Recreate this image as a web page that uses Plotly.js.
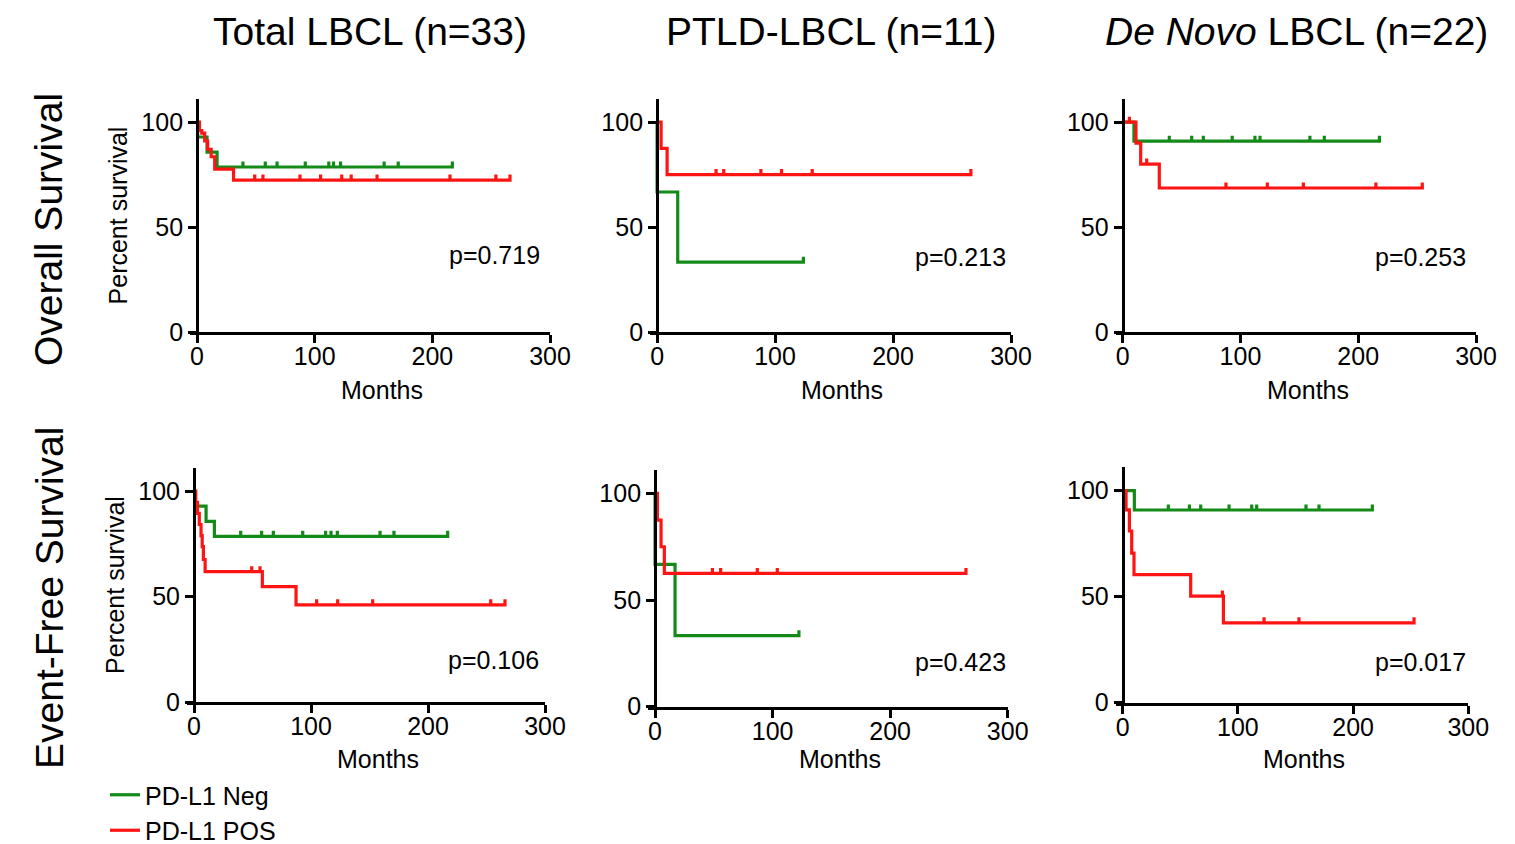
<!DOCTYPE html>
<html>
<head>
<meta charset="utf-8">
<script src="https://cdn.plot.ly/plotly-3.0.1.min.js"></script>
<style>html,body{margin:0;padding:0;background:#fff;}#chart{width:1515px;height:844px;}</style>
</head>
<body>
<div id="chart"></div>
<script>
// ---------- data (months, percent survival) ----------
const columnTitles = ["Total LBCL (n=33)", "PTLD-LBCL (n=11)", "<i>De Novo</i> LBCL (n=22)"];
const rowTitles = ["Overall Survival", "Event-Free Survival"];
const groupNames = ["PD-L1 Neg", "PD-L1 POS"];
const xTicks = [0, 100, 200, 300];
const yTicks = [0, 50, 100];
const pValues = ["p=0.719", "p=0.213", "p=0.253", "p=0.106", "p=0.423", "p=0.017"];

// Overall survival - Total
const osTotalNegEventT = [0.5, 8.5, 17];
const osTotalNegEventS = [92.9, 85.7, 78.6];
const osTotalNegCensor = [39, 58, 68, 92, 112, 116, 122, 159, 171, 217];
const osTotalPosEventT = [2, 4, 6.5, 9, 12, 15, 31];
const osTotalPosEventS = [96, 94.7, 91, 87, 83.5, 77.6, 72.4];
const osTotalPosCensor = [49, 56, 87.5, 105, 123, 131, 153, 215, 254, 266];

// Overall survival - PTLD
const osPtldNegEventT = [0, 17.5];
const osPtldNegEventS = [66.7, 33.3];
const osPtldNegCensor = [124];
const osPtldPosEventT = [3.4, 8.5];
const osPtldPosEventS = [87.5, 75];
const osPtldPosCensor = [50, 56.5, 88, 105.5, 131.5, 266];

// Overall survival - De Novo
const osDnNegEventT = [9.6];
const osDnNegEventS = [90.9];
const osDnNegCensor = [39.6, 58.6, 68.5, 93, 112.3, 116.6, 159, 171.2, 218];
const osDnPosEventT = [11.3, 15.3, 31.1];
const osDnPosEventS = [90, 80, 68.6];
const osDnPosCensor = [5.7, 20.4, 87.7, 122.8, 153.4, 215, 254.4];

// Event-free survival - Total
const efsTotalNegEventT = [0.5, 10.3, 17.4];
const efsTotalNegEventS = [92.9, 85.7, 78.6];
const efsTotalNegCensor = [39.9, 57.8, 67.8, 92.9, 112.5, 117.1, 122.5, 159, 170.9, 216.8];
const efsTotalPosEventT = [1.5, 3, 4.5, 6, 7, 8, 9.5, 58.4, 87.2];
const efsTotalPosEventS = [94.7, 89.5, 84.2, 78.9, 73.7, 67.6, 61.8, 54.7, 46.1];
const efsTotalPosCensor = [49.3, 56.4, 104.8, 122.8, 152.7, 253.6, 265.8];

// Event-free survival - PTLD
const efsPtldNegEventT = [0, 17];
const efsPtldNegEventS = [66.7, 33.3];
const efsPtldNegCensor = [122.4];
const efsPtldPosEventT = [2, 5.1, 7.9];
const efsPtldPosEventS = [87.5, 75, 62.5];
const efsPtldPosCensor = [48.8, 55.8, 87, 104, 264.5];

// Event-free survival - De Novo
const efsDnNegEventT = [10.1];
const efsDnNegEventS = [90.9];
const efsDnNegCensor = [39.6, 57.9, 67.7, 92.3, 112, 116.3, 159.1, 170.4, 216.7];
const efsDnPosEventT = [2.9, 5.8, 7.8, 9.8, 59, 87.4];
const efsDnPosEventS = [91, 81, 70.6, 60.4, 50.3, 37.7];
const efsDnPosCensor = [86.5, 122.7, 153, 252.9];

// ---------- build ----------
const panels = [
  {neg:[osTotalNegEventT, osTotalNegEventS, osTotalNegCensor], pos:[osTotalPosEventT, osTotalPosEventS, osTotalPosCensor]},
  {neg:[osPtldNegEventT, osPtldNegEventS, osPtldNegCensor], pos:[osPtldPosEventT, osPtldPosEventS, osPtldPosCensor]},
  {neg:[osDnNegEventT, osDnNegEventS, osDnNegCensor], pos:[osDnPosEventT, osDnPosEventS, osDnPosCensor]},
  {neg:[efsTotalNegEventT, efsTotalNegEventS, efsTotalNegCensor], pos:[efsTotalPosEventT, efsTotalPosEventS, efsTotalPosCensor]},
  {neg:[efsPtldNegEventT, efsPtldNegEventS, efsPtldNegCensor], pos:[efsPtldPosEventT, efsPtldPosEventS, efsPtldPosCensor]},
  {neg:[efsDnNegEventT, efsDnNegEventS, efsDnNegCensor], pos:[efsDnPosEventT, efsDnPosEventS, efsDnPosCensor]}
];

const W = 1515, H = 844;
// pixel geometry of each panel: [x at -6, x at 300, y pixel of 0, y pixel of 111]
const geom = [
  [190, 550, 332, 99],
  [650, 1011, 332, 99],
  [1115.6, 1476, 332, 99],
  [187, 545, 702, 468],
  [648, 1007.7, 706.7, 470],
  [1115.8, 1468.3, 702.7, 467.4]
];
// vertical pixel centre of the "Months" label for each panel
const monthsY = [390, 390, 390, 759, 759, 759];
const XMIN = -6, XMAX = 300, YMAX = 111;
const TICK_H = 2.6;
const GREEN = "#148a19", RED = "#ff1414";
const FONT = "Liberation Sans, Arial, sans-serif";
const FS = 25;

function kmPath(evT, evS, cens) {
  const items = [];
  evT.forEach((t, i) => items.push({t: t, type: 'e', s: evS[i]}));
  cens.forEach(t => items.push({t: t, type: 'c'}));
  items.sort((a, b) => a.t - b.t || (a.type === 'c' ? -1 : 1));
  const x = [0], y = [100];
  let cur = 100;
  items.forEach(it => {
    if (it.type === 'e') { x.push(it.t, it.t); y.push(cur, it.s); cur = it.s; }
    else { x.push(it.t, it.t, it.t); y.push(cur, cur + TICK_H, cur); }
  });
  return {x: x, y: y};
}

const traces = [];
const layout = {
  width: W, height: H,
  margin: {l: 0, r: 0, t: 0, b: 0, autoexpand: false},
  paper_bgcolor: "#fff", plot_bgcolor: "rgba(0,0,0,0)",
  font: {family: FONT, color: "#000", size: FS},
  showlegend: true,
  legend: {x: 105 / W, y: (H - 772) / H, xanchor: "left", yanchor: "top",
           font: {family: FONT, size: FS, color: "#000"}, bgcolor: "rgba(0,0,0,0)",
           tracegroupgap: 0, itemwidth: 30},
  annotations: [], shapes: []
};

panels.forEach((p, i) => {
  const k = i + 1;
  const xa = "x" + (k === 1 ? "" : k), ya = "y" + (k === 1 ? "" : k);
  const g = geom[i];
  const dx0 = g[0] / W, dx1 = g[1] / W;
  const dy0 = (H - g[2]) / H, dy1 = (H - g[3]) / H;
  const yPos = dx0 + (0 - XMIN) / (XMAX - XMIN) * (dx1 - dx0);
  [["neg", GREEN, 0], ["pos", RED, 1]].forEach(([key, col, gi]) => {
    const path = kmPath(p[key][0], p[key][1], p[key][2]);
    traces.push({
      type: "scatter", mode: "lines", x: path.x, y: path.y,
      xaxis: xa, yaxis: ya, name: groupNames[gi],
      line: {color: col, width: 3.2, shape: "linear"},
      showlegend: i === 0, legendgroup: groupNames[gi], hoverinfo: "skip"
    });
  });
  const col = i % 3;
  layout["xaxis" + (k === 1 ? "" : k)] = {
    domain: [dx0, dx1], anchor: ya, range: [XMIN, XMAX],
    showline: true, linewidth: 3, linecolor: "#000",
    ticks: "outside", ticklen: 8, tickwidth: 3, tickcolor: "#000",
    tickvals: xTicks, ticktext: xTicks.map(String), showgrid: false, zeroline: false,
    tickfont: {size: FS, family: FONT, color: "#000"}, ticklabelstandoff: -8,
    fixedrange: true
  };
  layout["yaxis" + (k === 1 ? "" : k)] = {
    domain: [dy0, dy1], anchor: "free", position: yPos, range: [0, YMAX],
    showline: true, linewidth: 3, linecolor: "#000",
    ticks: "outside", ticklen: 8, tickwidth: 3, tickcolor: "#000",
    tickvals: yTicks, ticktext: yTicks.map(String), showgrid: false, zeroline: false,
    tickfont: {size: FS, family: FONT, color: "#000"},
    title: col === 0 ? {text: "Percent survival", font: {size: 25, family: FONT, color: "#000"}, standoff: 5} : {text: ""},
    fixedrange: true
  };
  layout.annotations.push({
    xref: xa, yref: ya, x: [293, 297.7, 293, 297, 300, 300][i], y: [36.7, 35.9, 35.9, 19.9, 21.1, 19.3][i],
    xanchor: "right", yanchor: "middle", text: pValues[i], showarrow: false,
    font: {size: FS, family: FONT, color: "#000"}
  });
  layout.annotations.push({
    xref: xa, yref: "paper", x: 157, y: (H - monthsY[i]) / H,
    xanchor: "center", yanchor: "middle", text: "Months", showarrow: false,
    font: {size: FS, family: FONT, color: "#000"}
  });
});

// column titles
[370, 831, 1296].forEach((cx, j) => {
  layout.annotations.push({xref: "paper", yref: "paper", x: cx / W, y: (H - 32) / H,
    xanchor: "center", yanchor: "middle", text: columnTitles[j], showarrow: false,
    font: {size: 39, family: FONT, color: "#000"}});
});
// row titles
[230, 598].forEach((cy, j) => {
  layout.annotations.push({xref: "paper", yref: "paper", x: 49 / W, y: (H - cy) / H,
    xanchor: "center", yanchor: "middle", text: rowTitles[j], textangle: -90, showarrow: false,
    font: {size: 39, family: FONT, color: "#000"}});
});

Plotly.newPlot("chart", traces, layout, {staticPlot: true, displayModeBar: false});
</script>
</body>
</html>
